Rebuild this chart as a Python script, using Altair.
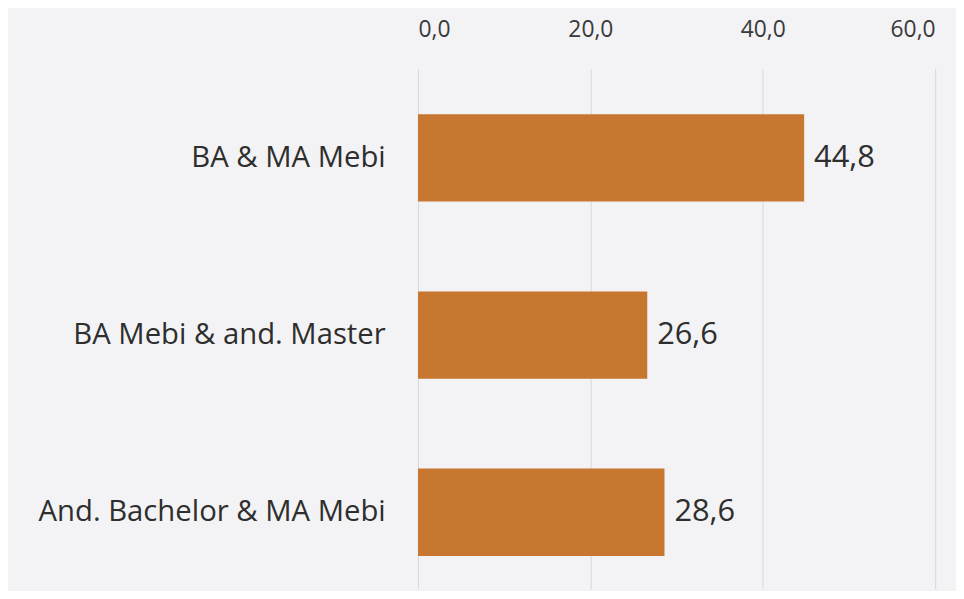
import altair as alt
import pandas as pd

categories = ["BA & MA Mebi", "BA Mebi & and. Master", "And. Bachelor & MA Mebi"]
values = [44.8, 26.6, 28.6]
tick_values = [0, 20, 40, 60]

df = pd.DataFrame({"cat": categories, "val": values})
df["lbl"] = [f"{v:.1f}".replace(".", ",") for v in values]

FONT = "Open Sans"

y_enc = alt.Y(
    "cat:N",
    sort=categories,
    title=None,
    scale=alt.Scale(paddingInner=0.507, paddingOuter=0.2213, align=0.58),
    axis=alt.Axis(
        domain=False, ticks=False, labelFontSize=29.5, labelColor="#2E2E2E",
        labelFont=FONT, labelPadding=33, labelLimit=420,
    ),
)
x_enc = alt.X(
    "val:Q",
    title=None,
    scale=alt.Scale(domain=[0, 60], nice=False),
    axis=alt.Axis(
        orient="top", values=tick_values, domain=False, ticks=False,
        labelExpr="replace(format(datum.value, '.1f'), '.', ',')",
        labelFontSize=23, labelColor="#3A3A3A", labelFont=FONT,
        labelPadding=27, grid=True, gridColor="#D8D8D8", gridWidth=1,
    ),
)

bars = alt.Chart(df).mark_bar(color="#C7772F").encode(x=x_enc, y=y_enc)
text = alt.Chart(df).mark_text(
    align="left", baseline="middle", dx=10, fontSize=31, color="#2E2E2E", font=FONT
).encode(x="val:Q", y=alt.Y("cat:N", sort=categories), text="lbl:N")

chart = (
    alt.layer(bars, text)
    .properties(
        width=521, height=524,
        autosize=alt.AutoSizeParams(type="none"),
        padding={"left": 413, "top": 59, "right": 21, "bottom": 0},
        background="#F3F3F5",
    )
    .configure_view(stroke=None)
)

chart.save("out.html", embed_options={"renderer": "svg", "actions": False})
